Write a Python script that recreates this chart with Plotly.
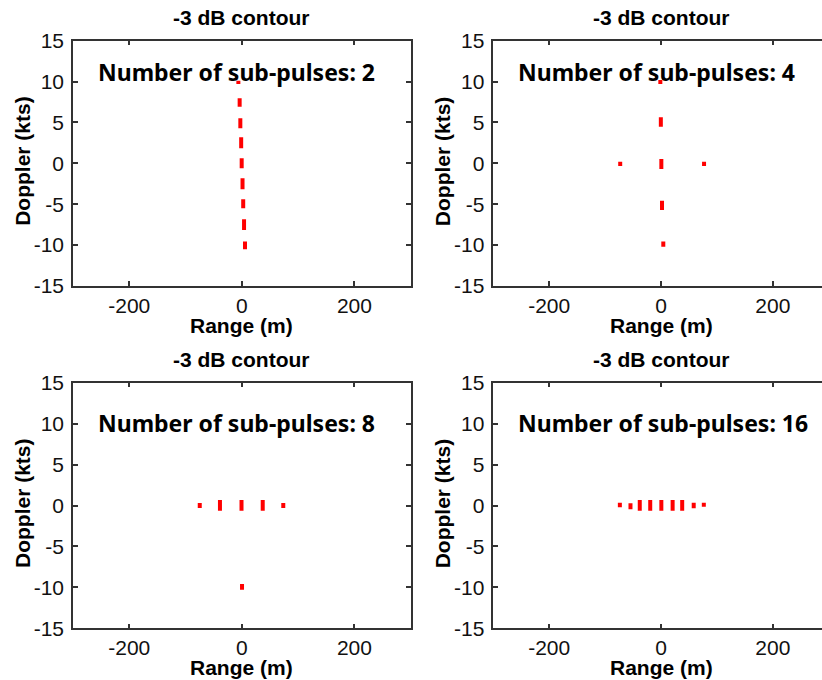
import plotly.graph_objects as go

# ---------------- data ----------------
titles = ["-3 dB contour"] * 4
labels = ["Number of sub-pulses: 2", "Number of sub-pulses: 4",
          "Number of sub-pulses: 8", "Number of sub-pulses: 16"]
x_ticks = [-200, 0, 200]
x_tick_text = ["-200", "0", "200"]
y_ticks = [-15, -10, -5, 0, 5, 10, 15]
y_tick_text = ["-15", "-10", "-5", "0", "5", "10", "15"]

# -3 dB contour blobs: range centre (m), doppler low / high (kts)
n2_range = [-6.2, -3.9, -2.7, -1.2, -0.3, 1.2, 2.4, 3.9, 5.6]
n2_dop_lo = [9.7, 6.93, 4.29, 1.85, -0.6, -3.17, -5.49, -8.14, -10.5]
n2_dop_hi = [10.1, 7.96, 5.51, 3.19, 0.62, -1.82, -4.39, -6.83, -9.57]

n4_range = [-1.2, -0.3, -73.0, 0.6, 77.0, 1.8, 4.1]
n4_dop_lo = [9.7, 4.49, -0.32, -0.68, -0.32, -5.7, -10.2]
n4_dop_hi = [10.2, 5.64, 0.2, 0.54, 0.2, -4.56, -9.57]

n8_range = [-74.8, -38.9, -0.6, 37.1, 73.6, 0.3]
n8_dop_lo = [-0.3, -0.64, -0.64, -0.64, -0.3, -10.3]
n8_dop_hi = [0.3, 0.67, 0.67, 0.67, 0.3, -9.6]

n16_range = [-73.6, -54.6, -38.0, -19.3, 0.6, 20.8, 37.9, 58.5, 76.6]
n16_dop_lo = [-0.22, -0.46, -0.64, -0.64, -0.64, -0.64, -0.64, -0.34, -0.15]
n16_dop_hi = [0.34, 0.27, 0.67, 0.67, 0.67, 0.67, 0.67, 0.34, 0.34]

panels = [
    (n2_range, n2_dop_lo, n2_dop_hi),
    (n4_range, n4_dop_lo, n4_dop_hi),
    (n8_range, n8_dop_lo, n8_dop_hi),
    (n16_range, n16_dop_lo, n16_dop_hi),
]

# ---------------- layout geometry (pixels) ----------------
W, H = 822, 680
x_dom_px = [(73.0, 410.7), (493.3, 822.0), (73.0, 410.7), (493.3, 822.0)]
y_dom_px = [(40.7, 286.0), (40.7, 286.0), (382.7, 628.3), (382.7, 628.3)]
x_ranges = [[-300, 300], [-300, 288], [-300, 300], [-300, 288]]
label_y = [11.2, 11.2, 10.1, 10.1]

FONT = "Liberation Sans, Arial, sans-serif"
AX_COLOR = "#333333"

fig = go.Figure()
layout = dict(
    width=W, height=H,
    margin=dict(l=0, r=0, t=0, b=0, pad=0, autoexpand=False),
    paper_bgcolor="white", plot_bgcolor="white",
    showlegend=False,
    font=dict(family=FONT, size=21, color="black"),
)
annotations = []

for i, (rng, lo, hi) in enumerate(panels):
    k = "" if i == 0 else str(i + 1)
    xa, ya = "x" + k, "y" + k
    xs, ys = [], []
    for r, a, b in zip(rng, lo, hi):
        xs += [r, r, None]
        ys += [a, b, None]
    fig.add_trace(go.Scatter(x=xs, y=ys, mode="lines", xaxis=xa, yaxis=ya,
                             line=dict(color="#ff0000", width=4),
                             hoverinfo="skip"))
    x0, x1 = x_dom_px[i]
    y0, y1 = y_dom_px[i]
    right_clipped = x1 >= W
    layout["xaxis" + k] = dict(
        domain=[x0 / W, x1 / W], range=x_ranges[i], anchor=ya,
        tickvals=x_ticks, ticktext=x_tick_text,
        ticks="inside", ticklen=5, tickwidth=1.5,
        tickcolor=AX_COLOR, showline=True, linecolor=AX_COLOR, linewidth=1.5,
        mirror="ticks", showgrid=False, zeroline=False, automargin=False,
        tickfont=dict(family=FONT, size=21, color="#111111"),
    )
    layout["yaxis" + k] = dict(
        domain=[1 - y1 / H, 1 - y0 / H], range=[-15, 15], anchor=xa,
        tickvals=y_ticks, ticktext=y_tick_text,
        ticks="inside", ticklen=5, tickwidth=1.5,
        tickcolor=AX_COLOR, showline=True, linecolor=AX_COLOR, linewidth=1.5,
        mirror=True if right_clipped else "ticks", showgrid=False, zeroline=False,
        automargin=False,
        tickfont=dict(family=FONT, size=21, color="#111111"),
        ticklabelstandoff=3,
    )
    cx = 241.7 if i % 2 == 0 else 661.0
    # panel title
    annotations.append(dict(
        text="<b>%s</b>" % titles[i], xref="paper", yref="paper",
        x=cx / W, y=1 - (y0 - 23.5) / H, xanchor="center", yanchor="middle",
        showarrow=False, font=dict(family=FONT, size=21, color="black")))
    # x axis title
    annotations.append(dict(
        text="<b>Range (m)</b>", xref="paper", yref="paper",
        x=cx / W, y=1 - (y1 + 39) / H, xanchor="center", yanchor="middle",
        showarrow=False, font=dict(family=FONT, size=21, color="black")))
    # y axis title
    annotations.append(dict(
        text="<b>Doppler (kts)</b>", xref="paper", yref="paper",
        x=(x0 - 50.5) / W, y=1 - ((y0 + y1) / 2 - 2) / H,
        xanchor="center", yanchor="middle", textangle=-90,
        showarrow=False, font=dict(family=FONT, size=21, color="black")))
    # number of sub-pulses label
    annotations.append(dict(
        text="<b>%s</b>" % labels[i], xref=xa, yref=ya,
        x=-259, y=label_y[i], xanchor="left", yanchor="middle",
        showarrow=False, font=dict(family="Noto Sans, sans-serif",
                                   size=23, color="black")))

layout["annotations"] = annotations
fig.update_layout(**layout)
fig.write_html("out.html")
